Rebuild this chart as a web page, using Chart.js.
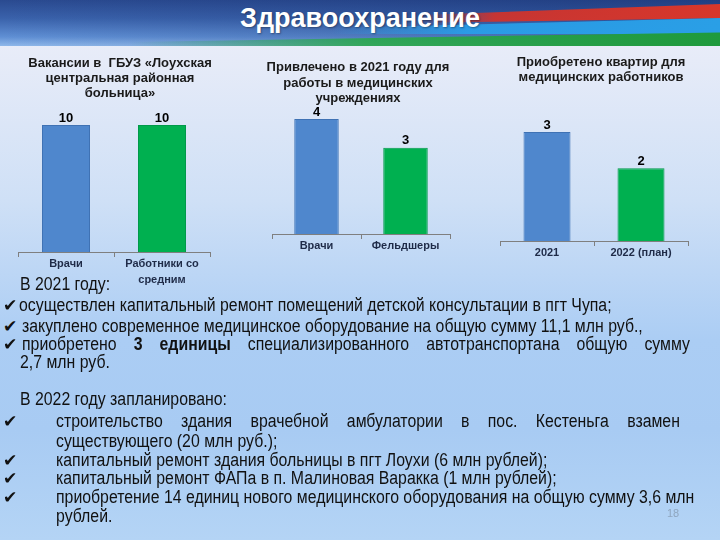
<!DOCTYPE html>
<html>
<head>
<meta charset="utf-8">
<script src="https://cdn.jsdelivr.net/npm/chart.js@4"></script>
<style>
  html, body { margin: 0; padding: 0; }
  body {
    width: 720px; height: 540px; position: relative; overflow: hidden;
    background: linear-gradient(180deg, #eef0f9 0px, #e6ebf8 60px, #cfe0f6 200px, #abcdf4 340px, #a8cbf3 430px, #b4d4f5 540px);
    font-family: "Liberation Sans", Arial, sans-serif;
  }
  #banner {
    position: absolute; left: 0; top: 0; width: 720px; height: 46px; overflow: hidden;
    background: linear-gradient(180deg, #2a4a90 0%, #3a62ab 40%, #5f8fd4 80%, #8fb8ea 100%);
  }
  #banner .shade {
    position: absolute; left: 0; top: 0; width: 720px; height: 46px;
    background: linear-gradient(90deg, rgba(20,45,110,0) 0%, rgba(20,45,110,0.4) 100%);
  }
  .stripe { position: absolute; }
  #red {
    left: 420px; top: 4px; width: 300px; height: 22px;
    background: linear-gradient(90deg, rgba(214,50,40,0) 0%, rgba(214,50,40,0.9) 25%, #d8372b 100%);
    clip-path: polygon(0 50%, 100% 0, 100% 65%, 0 85%);
  }
  #blue {
    left: 330px; top: 14px; width: 390px; height: 20px;
    background: linear-gradient(90deg, rgba(40,160,235,0) 0%, rgba(40,160,235,0.9) 35%, #2a9fe6 100%);
    clip-path: polygon(0 70%, 100% 20%, 100% 100%, 0 100%);
  }
  #green {
    left: 130px; top: 30px; width: 590px; height: 16px;
    background: linear-gradient(90deg, rgba(40,170,70,0) 0%, rgba(40,170,70,0.85) 40%, #1f9a3c 100%);
    clip-path: polygon(0 75%, 100% 15%, 100% 100%, 0 100%);
  }
  #title {
    position: absolute; left: 0; top: 3px; width: 720px; text-align: center;
    color: #fff; font: bold 27px "Liberation Sans", Arial, sans-serif;
    text-shadow: 1px 1px 2px rgba(0,0,0,0.35);
  }
  canvas { position: absolute; }
  .txt {
    position: absolute; color: #111; white-space: nowrap;
    font-family: "Liberation Sans", Arial, sans-serif;
    font-size: 18px; line-height: 20px;
    transform: scaleX(0.88); transform-origin: 0 0;
  }
  .just { text-align: justify; text-align-last: justify; white-space: normal; }
  .chk { position: absolute; color: #111; font: 17px "DejaVu Sans", sans-serif; line-height: 20px; }
  #page { position: absolute; left: 660px; top: 507px; width: 26px; text-align: center; color: #8fa6bf; font: 11px "Liberation Sans", sans-serif; }
</style>
</head>
<body>
<div id="banner">
  <div class="shade"></div>
  <div class="stripe" id="red"></div>
  <div class="stripe" id="blue"></div>
  <div class="stripe" id="green"></div>
  <div id="title">Здравоохранение</div>
</div>

<canvas id="c1" width="230" height="242" style="left:0px; top:50px"></canvas>
<canvas id="c2" width="204" height="224" style="left:256px; top:50px"></canvas>
<canvas id="c3" width="220" height="231" style="left:490px; top:50px"></canvas>

<div class="txt" style="left:20px; top:274px">В 2021 году:</div>
<div class="chk" style="left:3px; top:295px">✔</div>
<div class="txt" style="left:19px; top:295px">осуществлен капитальный ремонт помещений детской консультации в пгт Чупа;</div>
<div class="chk" style="left:3px; top:316px">✔</div>
<div class="txt" style="left:22px; top:316px">закуплено современное медицинское оборудование на общую сумму 11,1 млн руб.,</div>
<div class="chk" style="left:3px; top:334px">✔</div>
<div class="txt just" style="left:22px; top:334px; width:759px">приобретено <b>3 единицы</b> специализированного автотранспортана общую сумму</div>
<div class="txt" style="left:20px; top:352px">2,7 млн руб.</div>

<div class="txt" style="left:20px; top:389px">В 2022 году запланировано:</div>
<div class="chk" style="left:3px; top:411px">✔</div>
<div class="txt just" style="left:56px; top:411px; width:709px">строительство здания врачебной амбулатории в пос. Кестеньга взамен</div>
<div class="txt" style="left:56px; top:431px">существующего (20 млн руб.);</div>
<div class="chk" style="left:3px; top:450px">✔</div>
<div class="txt" style="left:56px; top:450px">капитальный ремонт здания больницы в пгт Лоухи (6 млн рублей);</div>
<div class="chk" style="left:3px; top:468px">✔</div>
<div class="txt" style="left:56px; top:468px">капитальный ремонт ФАПа в п. Малиновая Варакка (1 млн рублей);</div>
<div class="chk" style="left:3px; top:487px">✔</div>
<div class="txt" style="left:56px; top:487px">приобретение 14 единиц нового медицинского оборудования на общую сумму 3,6 млн</div>
<div class="txt" style="left:56px; top:506px">рублей.</div>
<div id="page">18</div>

<script>
// данные трёх диаграмм
const vacancyLabels = ['Врачи', ['Работники со', 'средним']];
const vacancyValues = [10, 10];
const hiredLabels = ['Врачи', 'Фельдшеры'];
const hiredValues = [4, 3];
const flatLabels = ['2021', '2022 (план)'];
const flatValues = [3, 2];

const barColors = ['#4f87cd', '#00b050'];
const barBorders = ['#3f72b4', '#00994a'];

// подписи значений над столбиками
const valueLabels = {
    id: 'valueLabels',
    afterDatasetsDraw(chart) {
        const ctx = chart.ctx;
        const meta = chart.getDatasetMeta(0);
        ctx.save();
        ctx.fillStyle = '#000';
        ctx.font = 'bold 13px "Liberation Sans", Arial, sans-serif';
        ctx.textAlign = 'center';
        ctx.textBaseline = 'middle';
        meta.data.forEach((bar, i) => {
            ctx.fillText(chart.data.datasets[0].data[i], bar.x, bar.y - 7);
        });
        ctx.restore();
    }
};

function makeChart(id, title, labels, values, opts) {
    return new Chart(document.getElementById(id), {
        type: 'bar',
        data: {
            labels: labels,
            datasets: [{
                data: values,
                backgroundColor: barColors,
                borderColor: barBorders,
                borderWidth: 1,
                barPercentage: 0.5,
                categoryPercentage: 1
            }]
        },
        options: {
            responsive: false,
            animation: false,
            layout: { padding: opts.padding },
            plugins: {
                legend: { display: false },
                tooltip: { enabled: false },
                title: {
                    display: true,
                    text: title,
                    color: '#1a1a1a',
                    font: { family: '"Liberation Sans", Arial, sans-serif', size: 13, weight: 'bold', lineHeight: opts.titleLh / 13 },
                    padding: opts.titlePad
                }
            },
            scales: {
                x: {
                    grid: { drawOnChartArea: false, color: '#7f7f7f', tickLength: 5, offset: true },
                    border: { color: '#7f7f7f' },
                    ticks: {
                        color: '#1f2b48',
                        font: { family: '"Liberation Sans", Arial, sans-serif', size: 11, weight: 'bold', lineHeight: 16 / 11 },
                        padding: -1,
                        maxRotation: 0,
                        autoSkip: false
                    },
                    afterFit: s => { s.height = 40; }
                },
                y: {
                    min: 0,
                    max: opts.max,
                    position: opts.yPos,
                    ticks: { display: false },
                    grid: { display: false },
                    border: { display: false },
                    afterFit: s => { s.width = opts.yWidth; }
                }
            }
        },
        plugins: [valueLabels]
    });
}

makeChart('c1', ['Вакансии в  ГБУЗ «Лоухская', 'центральная районная', 'больница»'],
    vacancyLabels, vacancyValues,
    { padding: { left: 18, right: 8, top: 0, bottom: 0 }, titleLh: 15, titlePad: { top: 6, bottom: 24 }, max: 10, yPos: 'right', yWidth: 12 });

makeChart('c2', ['Привлечено в 2021 году для', 'работы в медицинских', 'учреждениях'],
    hiredLabels, hiredValues,
    { padding: { left: 10, right: 10, top: 0, bottom: 0 }, titleLh: 15.5, titlePad: { top: 10, bottom: 12.5 }, max: 4, yPos: 'left', yWidth: 6 });

makeChart('c3', ['Приобретено квартир для', 'медицинских работников'],
    flatLabels, flatValues,
    { padding: { left: 10, right: 8, top: 0, bottom: 0 }, titleLh: 15, titlePad: { top: 5, bottom: 47 }, max: 3, yPos: 'right', yWidth: 14 });
</script>
</body>
</html>
